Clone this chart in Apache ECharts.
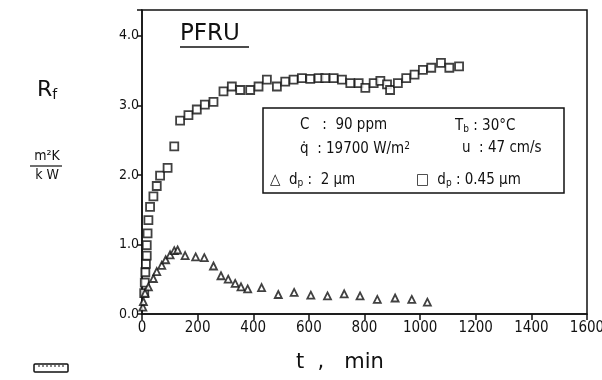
<!DOCTYPE html>
<html><head><meta charset="utf-8">
<script src="https://cdn.jsdelivr.net/npm/echarts@6/dist/echarts.min.js"></script>
<style>html,body{margin:0;padding:0;background:#fff}#c{width:602px;height:380px}</style>
</head><body><div id="c"></div>
<script>
// d_p = 0.45 um (squares)
const sqT = [8,10,12,14,17,17,20,23,29,41,53,65,92,116,137,167,197,226,257,293,323,353,389,419,449,485,515,545,575,605,635,659,689,719,749,779,803,833,857,881,892,920,950,980,1010,1040,1075,1105,1140];
const sqR = [0.30,0.45,0.60,0.72,0.84,0.99,1.16,1.35,1.54,1.69,1.84,1.99,2.10,2.41,2.78,2.86,2.94,3.01,3.05,3.20,3.27,3.22,3.22,3.27,3.37,3.27,3.34,3.37,3.39,3.38,3.39,3.39,3.39,3.37,3.32,3.32,3.25,3.32,3.35,3.30,3.22,3.32,3.39,3.44,3.51,3.54,3.61,3.54,3.56];
// d_p = 2 um (triangles)
const trT = [3,5,11,23,41,53,71,85,101,116,128,155,193,224,257,284,310,335,356,380,430,490,547,607,667,727,784,846,910,970,1026];
const trR = [0.10,0.18,0.30,0.39,0.51,0.61,0.70,0.78,0.85,0.91,0.92,0.84,0.82,0.81,0.69,0.55,0.50,0.44,0.39,0.36,0.38,0.28,0.31,0.27,0.26,0.29,0.26,0.21,0.23,0.21,0.17];
const xTicks = [0,200,400,600,800,1000,1200,1400,1600];
const yTicks = [0,1,2,3,4];

const zip = (a,b) => a.map((v,i)=>[v,b[i]]);
const F = '"DejaVu Sans Condensed","DejaVu Sans",sans-serif';
const G = '"DejaVu Sans",sans-serif';
const chart = echarts.init(document.getElementById('c'));
chart.setOption({
  animation:false,
  backgroundColor:'#fff',
  grid:{left:142,right:15,top:10,bottom:66,show:true,borderColor:'#111',borderWidth:1.5,
    containLabel:false,outerBoundsMode:'none'},
  xAxis:{type:'value',min:0,max:1600,interval:200,
    axisLine:{lineStyle:{color:'#111',width:1.5}},
    axisTick:{show:true,inside:false,length:6,lineStyle:{color:'#111',width:1.5}},
    axisLabel:{color:'#111',fontFamily:F,fontSize:15,margin:7,showMaxLabel:true,
      formatter:v=>xTicks.includes(v)?String(v):''},
    splitLine:{show:false}},
  yAxis:{type:'value',min:0,max:4.37,interval:1,
    axisLine:{show:true,lineStyle:{color:'#111',width:1.5}},
    axisTick:{show:true,inside:false,length:5,lineStyle:{color:'#111',width:1.5}},
    axisLabel:{color:'#111',fontFamily:F,fontSize:14,margin:3,
      formatter:v=>yTicks.includes(v)?v.toFixed(1):''},
    splitLine:{show:false}},
  series:[
    {type:'scatter',data:zip(sqT,sqR),symbol:'rect',symbolSize:8,
      itemStyle:{color:'#fff',borderColor:'#111',borderWidth:1.8}},
    {type:'scatter',data:zip(trT,trR),symbol:'triangle',symbolSize:7,
      itemStyle:{color:'#fff',borderColor:'#111',borderWidth:1.8}}
  ],
  graphic:[
    {type:'text',x:180,y:23,style:{text:'PFRU',font:'23px '+G,fill:'#111'}},
    {type:'line',shape:{x1:180,y1:47,x2:249,y2:47},style:{stroke:'#111',lineWidth:1.5}},
    {type:'rect',shape:{x:263,y:108,width:301,height:85},style:{fill:'#fff',stroke:'#111',lineWidth:1.5},z:10},
    {type:'text',x:300,y:118,z:11,style:{text:'C   :  90 ppm',font:'15px '+F,fill:'#111'}},
    {type:'text',x:455,y:118,z:11,style:{text:'{a|T}{s|b}{a| : 30°C}',fill:'#111',
      rich:{a:{font:'15px '+F},s:{font:'10px '+F,verticalAlign:'bottom',padding:[6,0,0,0]}}}},
    {type:'text',x:300,y:141,z:11,style:{text:'{a|q̇  : 19700 W/m}{p|2}',fill:'#111',
      rich:{a:{font:'15px '+F},p:{font:'10px '+F,verticalAlign:'top',padding:[0,0,6,0]}}}},
    {type:'text',x:462,y:141,z:11,style:{text:'u  : 47 cm/s',font:'15px '+F,fill:'#111'}},
    {type:'text',x:270,y:172,z:11,style:{text:'{a|△  d}{s|p}{a| :  2 μm}',fill:'#111',
      rich:{a:{font:'15px '+F},s:{font:'10px '+F,padding:[6,0,0,0]}}}},
    {type:'text',x:416,y:172,z:11,style:{text:'{a|□  d}{s|p}{a| : 0.45 μm}',fill:'#111',
      rich:{a:{font:'15px '+F},s:{font:'10px '+F,padding:[6,0,0,0]}}}},
    {type:'text',x:37,y:78,style:{text:'{a|R}{s|f}',fill:'#111',
      rich:{a:{font:'22px '+G},s:{font:'14px '+G,padding:[10,0,0,0]}}}},
    {type:'text',x:47,y:149,style:{text:'m²K',font:'14px '+F,fill:'#111',align:'center'}},
    {type:'line',shape:{x1:30,y1:166,x2:62,y2:166},style:{stroke:'#111',lineWidth:1.2}},
    {type:'text',x:47,y:168,style:{text:'k W',font:'14px '+F,fill:'#111',align:'center'}},
    {type:'text',x:296,y:352,style:{text:'t  ,   min',font:'21px '+G,fill:'#111'}},
    {type:'rect',shape:{x:34,y:364,width:34,height:8,r:1},style:{fill:'#fff',stroke:'#111',lineWidth:1.5}},
    {type:'line',shape:{x1:38,y1:366,x2:64,y2:366},style:{stroke:'#111',lineWidth:1,lineDash:[2,2]}}
  ]
});
</script></body></html>
